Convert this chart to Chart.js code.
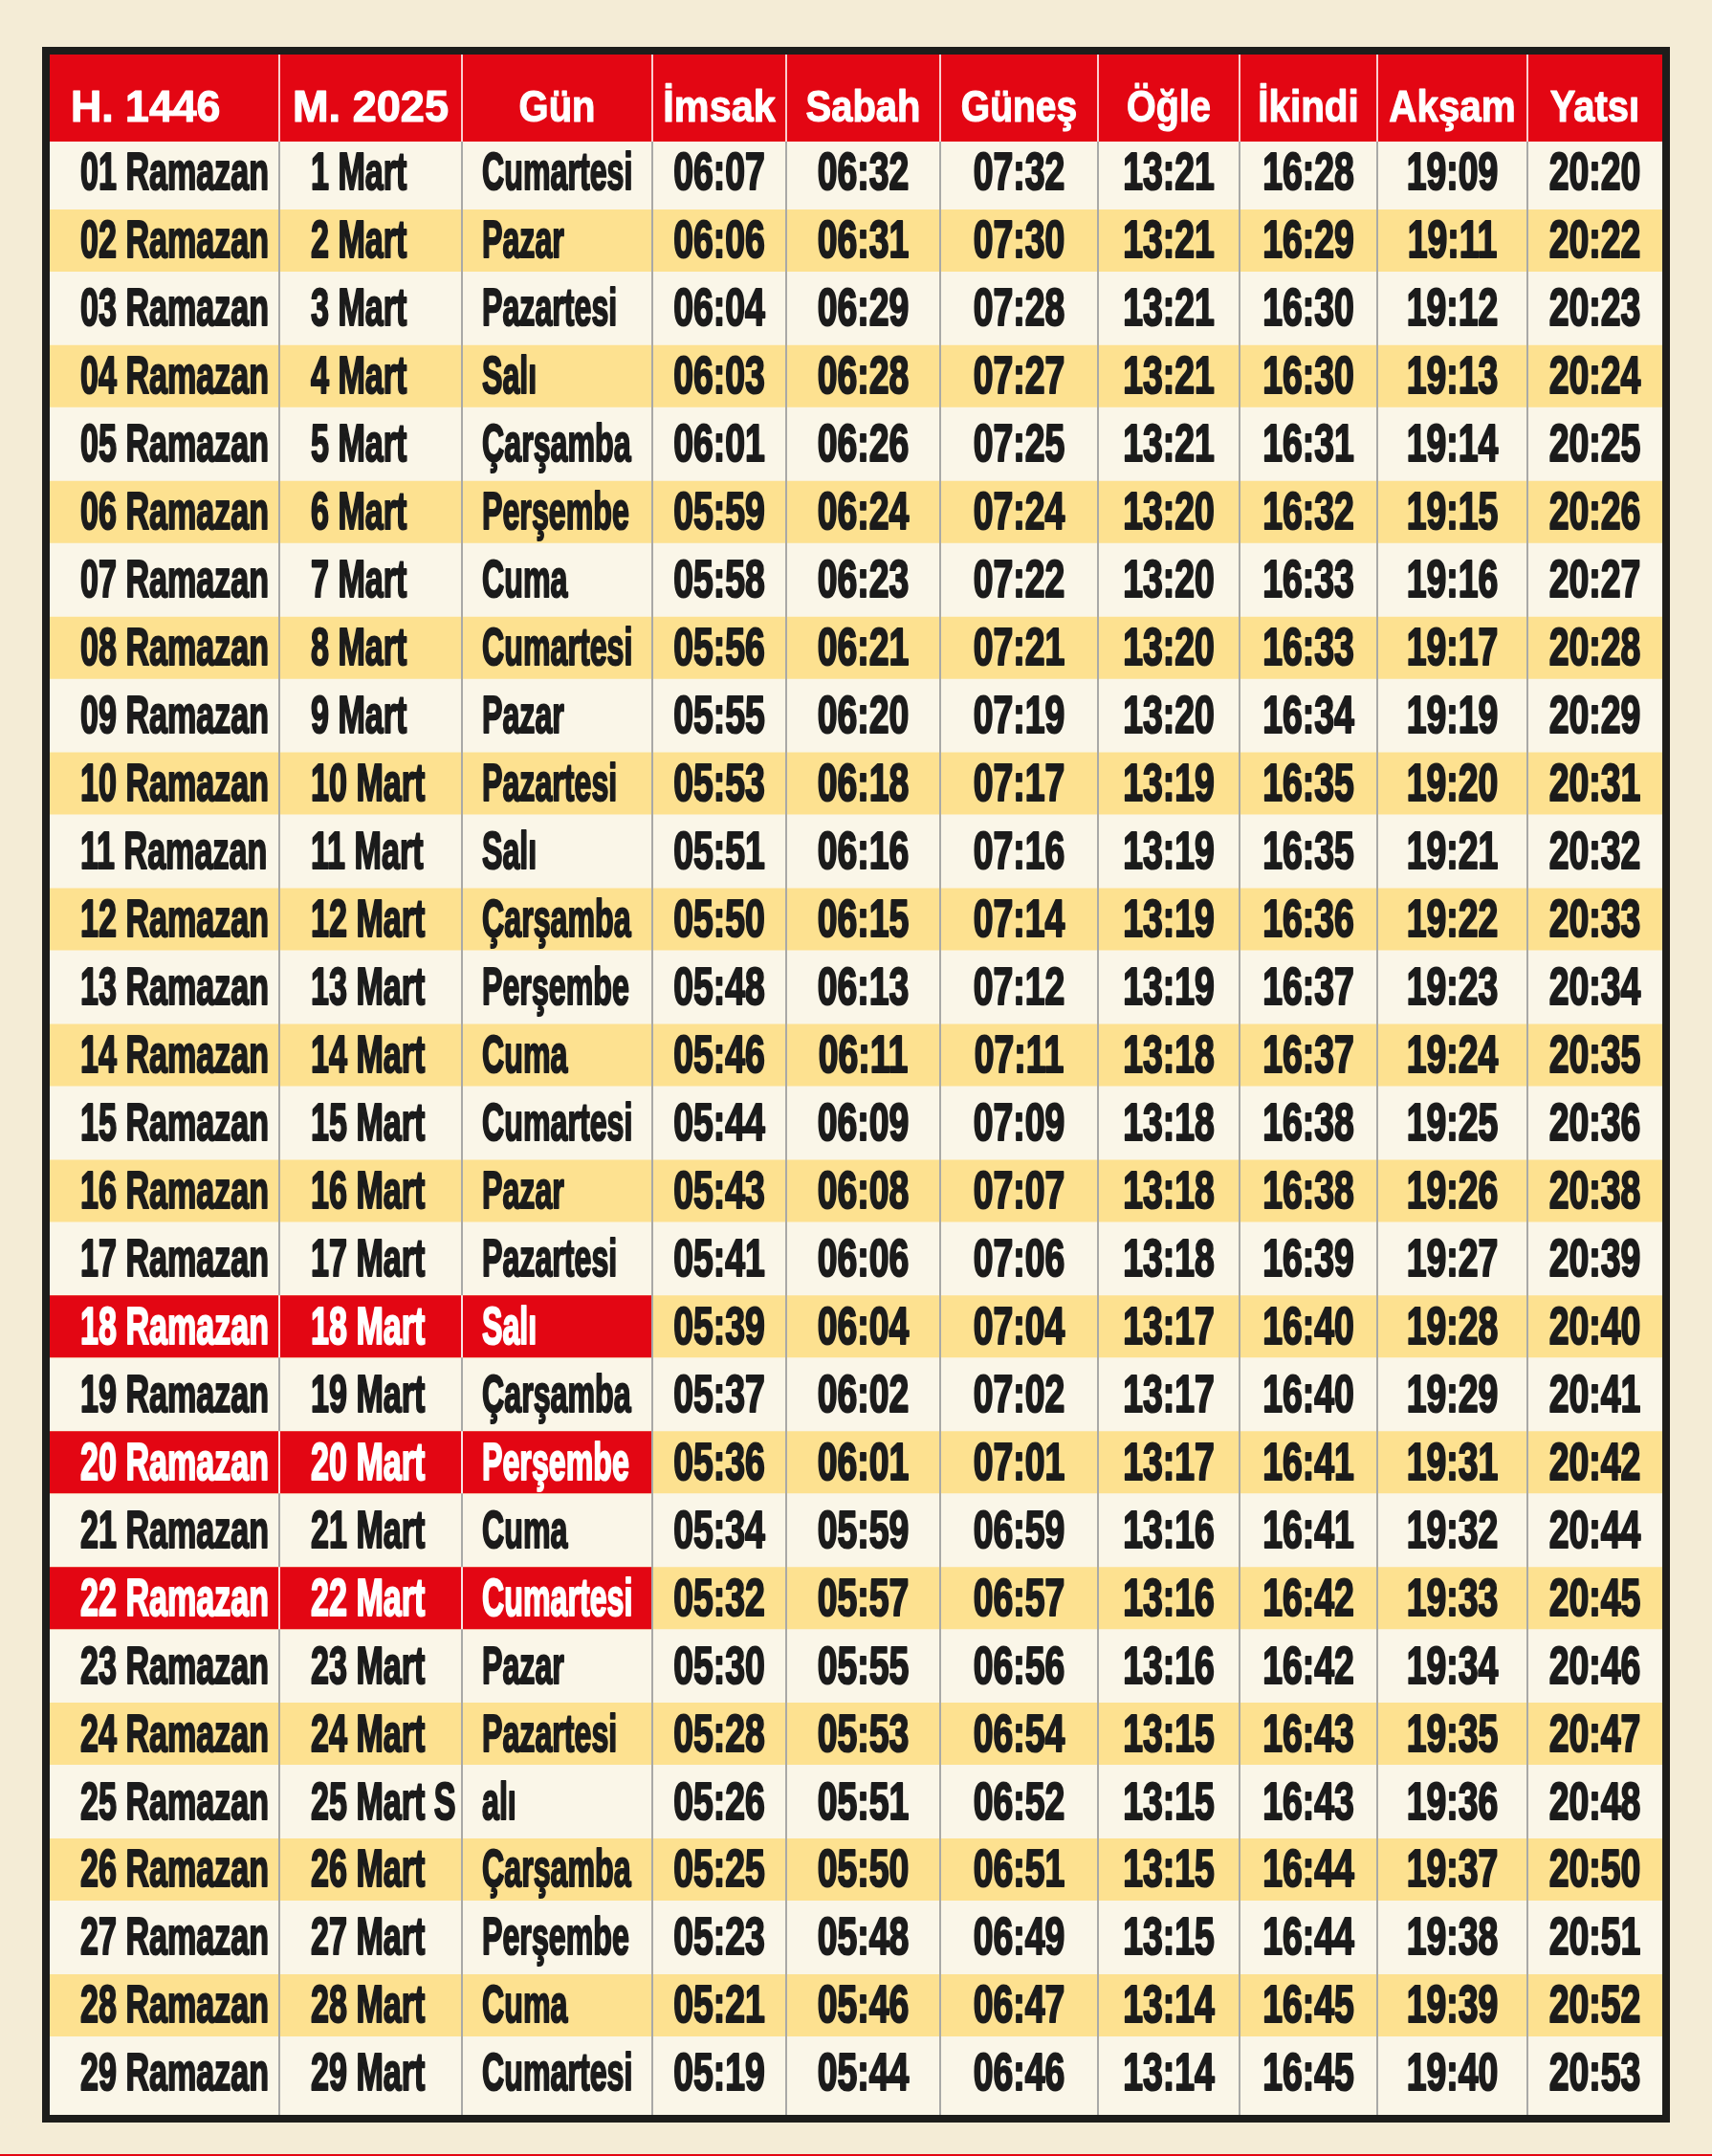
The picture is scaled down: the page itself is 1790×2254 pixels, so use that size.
<!DOCTYPE html>
<html lang="tr">
<head>
<meta charset="utf-8">
<title>Ramazan İmsakiyesi 1446 / 2025</title>
<script src="https://cdn.jsdelivr.net/npm/chart.js@4.4.1/dist/chart.umd.min.js"></script>
<style>
  html, body { margin: 0; padding: 0; background: #f4ecd6; overflow: hidden; }
  #wrap { width: 1790px; height: 2254px; }
</style>
</head>
<body>
<div id="wrap"><canvas id="imsakiye" width="1790" height="2254"></canvas></div>
<script>

  /*-------------------------------------------------------------------------------
    DATA
  -------------------------------------------------------------------------------*/

  const headers = ['H. 1446', 'M. 2025', 'Gün', 'İmsak', 'Sabah', 'Güneş', 'Öğle', 'İkindi', 'Akşam', 'Yatsı'];

  const hijri = ['01 Ramazan', '02 Ramazan', '03 Ramazan', '04 Ramazan', '05 Ramazan', '06 Ramazan',
    '07 Ramazan', '08 Ramazan', '09 Ramazan', '10 Ramazan', '11 Ramazan', '12 Ramazan', '13 Ramazan',
    '14 Ramazan', '15 Ramazan', '16 Ramazan', '17 Ramazan', '18 Ramazan', '19 Ramazan', '20 Ramazan',
    '21 Ramazan', '22 Ramazan', '23 Ramazan', '24 Ramazan', '25 Ramazan', '26 Ramazan', '27 Ramazan',
    '28 Ramazan', '29 Ramazan'];

  const miladi = ['1 Mart', '2 Mart', '3 Mart', '4 Mart', '5 Mart', '6 Mart', '7 Mart', '8 Mart',
    '9 Mart', '10 Mart', '11 Mart', '12 Mart', '13 Mart', '14 Mart', '15 Mart', '16 Mart', '17 Mart',
    '18 Mart', '19 Mart', '20 Mart', '21 Mart', '22 Mart', '23 Mart', '24 Mart', '25 Mart S', '26 Mart',
    '27 Mart', '28 Mart', '29 Mart'];

  const gun = ['Cumartesi', 'Pazar', 'Pazartesi', 'Salı', 'Çarşamba', 'Perşembe', 'Cuma',
    'Cumartesi', 'Pazar', 'Pazartesi', 'Salı', 'Çarşamba', 'Perşembe', 'Cuma',
    'Cumartesi', 'Pazar', 'Pazartesi', 'Salı', 'Çarşamba', 'Perşembe', 'Cuma',
    'Cumartesi', 'Pazar', 'Pazartesi', 'alı', 'Çarşamba', 'Perşembe', 'Cuma', 'Cumartesi'];

  const imsak = ['06:07', '06:06', '06:04', '06:03', '06:01', '05:59', '05:58', '05:56', '05:55', '05:53',
    '05:51', '05:50', '05:48', '05:46', '05:44', '05:43', '05:41', '05:39', '05:37', '05:36',
    '05:34', '05:32', '05:30', '05:28', '05:26', '05:25', '05:23', '05:21', '05:19'];

  const sabah = ['06:32', '06:31', '06:29', '06:28', '06:26', '06:24', '06:23', '06:21', '06:20', '06:18',
    '06:16', '06:15', '06:13', '06:11', '06:09', '06:08', '06:06', '06:04', '06:02', '06:01',
    '05:59', '05:57', '05:55', '05:53', '05:51', '05:50', '05:48', '05:46', '05:44'];

  const gunes = ['07:32', '07:30', '07:28', '07:27', '07:25', '07:24', '07:22', '07:21', '07:19', '07:17',
    '07:16', '07:14', '07:12', '07:11', '07:09', '07:07', '07:06', '07:04', '07:02', '07:01',
    '06:59', '06:57', '06:56', '06:54', '06:52', '06:51', '06:49', '06:47', '06:46'];

  const ogle = ['13:21', '13:21', '13:21', '13:21', '13:21', '13:20', '13:20', '13:20', '13:20', '13:19',
    '13:19', '13:19', '13:19', '13:18', '13:18', '13:18', '13:18', '13:17', '13:17', '13:17',
    '13:16', '13:16', '13:16', '13:15', '13:15', '13:15', '13:15', '13:14', '13:14'];

  const ikindi = ['16:28', '16:29', '16:30', '16:30', '16:31', '16:32', '16:33', '16:33', '16:34', '16:35',
    '16:35', '16:36', '16:37', '16:37', '16:38', '16:38', '16:39', '16:40', '16:40', '16:41',
    '16:41', '16:42', '16:42', '16:43', '16:43', '16:44', '16:44', '16:45', '16:45'];

  const aksam = ['19:09', '19:11', '19:12', '19:13', '19:14', '19:15', '19:16', '19:17', '19:19', '19:20',
    '19:21', '19:22', '19:23', '19:24', '19:25', '19:26', '19:27', '19:28', '19:29', '19:31',
    '19:32', '19:33', '19:34', '19:35', '19:36', '19:37', '19:38', '19:39', '19:40'];

  const yatsi = ['20:20', '20:22', '20:23', '20:24', '20:25', '20:26', '20:27', '20:28', '20:29', '20:31',
    '20:32', '20:33', '20:34', '20:35', '20:36', '20:38', '20:39', '20:40', '20:41', '20:42',
    '20:44', '20:45', '20:46', '20:47', '20:48', '20:50', '20:51', '20:52', '20:53'];

  // days printed on red
  const highlighted = [18, 20, 22];


  /*-------------------------------------------------------------------------------
    LAYOUT / STYLE
  -------------------------------------------------------------------------------*/

  const columns = [hijri, miladi, gun, imsak, sabah, gunes, ogle, ikindi, aksam, yatsi];

  // column edges in table units (x scale)
  const colEdges = [0, 240, 431, 630, 770, 931, 1096, 1244, 1388, 1545, 1686];
  // y scale: row n sits between n-1 and n, header above 0
  const yMin = -1.24, yMax = 29.115, headerBottom = 0.042;
  const headerMid = (yMin + headerBottom) / 2;
  const bandShare = 0.916;   // height of a coloured band inside its row

  const RED = '#e30613';
  const YELLOW = '#fde190';
  const LIGHT = '#faf6e8';
  const PAPER = '#f4ecd6';
  const FRAME = '#1d1d1b';
  const INK = '#1b1b1b';

  const headFont = 'bold 47px "Liberation Sans", Arial, sans-serif';
  const bodyFont = 'bold 55px "Liberation Sans", Arial, sans-serif';
  const headAlign = ['left', 'center', 'center', 'center', 'center', 'center', 'center', 'center', 'center', 'center'];
  const headScale = [0.95, 0.96, 0.85, 0.88, 0.85, 0.83, 0.84, 0.86, 0.86, 0.85];
  const bodyAlign = ['left', 'left', 'left', 'center', 'center', 'center', 'center', 'center', 'center', 'center'];
  const bodyScale = [0.62, 0.62, 0.585, 0.68, 0.68, 0.68, 0.68, 0.68, 0.68, 0.68];
  const headPad = 22;
  const bodyPad = [32, 33, 21];


  /*-------------------------------------------------------------------------------
    DATASETS (cells)
  -------------------------------------------------------------------------------*/

  const rowCentre = n => n - 0.5;
  const fullRow = [colEdges[0], colEdges[colEdges.length - 1]];

  const headerCells = headers.map((h, c) => ({ y: headerMid, x: [colEdges[c], colEdges[c + 1]] }));

  const redCells = [];
  highlighted.forEach(n => {
    for (let c = 0; c < 3; c++) {
      redCells.push({ y: rowCentre(n), x: [colEdges[c], colEdges[c + 1]] });
    }
  });

  const yellowRows = hijri.map((_, i) => i + 1).filter(n => n % 2 === 0)
    .map(n => ({ y: rowCentre(n), x: fullRow }));

  const lightRows = hijri.map((_, i) => i + 1).filter(n => n % 2 === 1)
    .map(n => ({ y: rowCentre(n), x: fullRow }));


  /*-------------------------------------------------------------------------------
    Plugin: paper, frame, rules and cell texts
  -------------------------------------------------------------------------------*/

  function drawText(ctx, str, x, y, align, sx, weight) {
    ctx.save();
    ctx.translate(x, y);
    ctx.scale(sx, 1);
    ctx.textAlign = align;
    ctx.lineWidth = weight;
    ctx.lineJoin = 'round';
    ctx.strokeStyle = ctx.fillStyle;
    ctx.strokeText(str, 0, 0);
    ctx.fillText(str, 0, 0);
    ctx.restore();
  }

  const tablePlugin = {
    id: 'tablo',
    beforeDraw(chart) {
      const { ctx, chartArea: a } = chart;
      ctx.save();
      ctx.fillStyle = PAPER;
      ctx.fillRect(0, 0, chart.width, chart.height);
      ctx.fillStyle = FRAME;
      ctx.fillRect(a.left - 8, a.top - 8, a.width + 16, a.height + 16);
      ctx.fillStyle = LIGHT;
      ctx.fillRect(a.left, a.top, a.width, a.height);
      ctx.fillStyle = RED;
      ctx.fillRect(0, chart.height - 2, chart.width, 2);
      ctx.restore();
    },
    afterDatasetsDraw(chart) {
      const { ctx, chartArea: a } = chart;
      const xs = chart.scales.x, ys = chart.scales.y;
      const hb = ys.getPixelForValue(headerBottom);
      ctx.save();

      // column rules
      ctx.lineWidth = 2;
      for (let c = 1; c < colEdges.length - 1; c++) {
        const x = Math.round(xs.getPixelForValue(colEdges[c]));
        ctx.strokeStyle = 'rgba(255,255,255,0.8)';
        ctx.beginPath(); ctx.moveTo(x, a.top); ctx.lineTo(x, hb); ctx.stroke();
        ctx.strokeStyle = '#a9a9a7';
        ctx.beginPath(); ctx.moveTo(x, hb); ctx.lineTo(x, a.bottom); ctx.stroke();
        if (c < 3) {
          ctx.strokeStyle = 'rgba(255,235,235,0.9)';
          highlighted.forEach(n => {
            const y0 = ys.getPixelForValue(rowCentre(n) - bandShare / 2);
            const y1 = ys.getPixelForValue(rowCentre(n) + bandShare / 2);
            ctx.beginPath(); ctx.moveTo(x, y0); ctx.lineTo(x, y1); ctx.stroke();
          });
        }
      }

      // header texts
      ctx.font = headFont;
      ctx.fillStyle = '#ffffff';
      ctx.textBaseline = 'alphabetic';
      const hy = ys.getPixelForValue(headerMid) + 24.5;
      headers.forEach((h, c) => {
        const l = xs.getPixelForValue(colEdges[c]);
        const r = xs.getPixelForValue(colEdges[c + 1]);
        const x = headAlign[c] === 'left' ? l + headPad : (l + r) / 2;
        drawText(ctx, h, x, hy, headAlign[c], headScale[c], 1.2);
      });

      // body texts
      ctx.font = bodyFont;
      hijri.forEach((_, i) => {
        const n = i + 1;
        const y = ys.getPixelForValue(rowCentre(n)) + 18;
        columns.forEach((col, c) => {
          const l = xs.getPixelForValue(colEdges[c]);
          const r = xs.getPixelForValue(colEdges[c + 1]);
          const onRed = c < 3 && highlighted.includes(n);
          ctx.fillStyle = onRed ? '#ffffff' : INK;
          const x = bodyAlign[c] === 'left' ? l + bodyPad[c] : (l + r) / 2;
          drawText(ctx, col[i], x, y, bodyAlign[c], bodyScale[c], 2.2);
        });
      });
      ctx.restore();
    }
  };


  /*-------------------------------------------------------------------------------
    Chart
  -------------------------------------------------------------------------------*/

  function drawTable() {
    const ctx = document.getElementById('imsakiye').getContext('2d');
    new Chart(ctx, {
      type: 'bar',
      data: {
        datasets: [{
          label: 'başlık',
          data: headerCells,
          backgroundColor: RED,
          barPercentage: (headerBottom - yMin)
        }, {
          label: 'vurgulu',
          data: redCells,
          backgroundColor: RED,
          barPercentage: bandShare
        }, {
          label: 'sarı satır',
          data: yellowRows,
          backgroundColor: YELLOW,
          barPercentage: bandShare
        }, {
          label: 'açık satır',
          data: lightRows,
          backgroundColor: LIGHT,
          barPercentage: 1
        }]
      },
      options: {
        indexAxis: 'y',
        responsive: false,
        animation: false,
        events: [],
        layout: { padding: { left: 52, right: 52, top: 57, bottom: 43 } },
        datasets: { bar: { grouped: false, categoryPercentage: 1, borderWidth: 0 } },
        plugins: { legend: { display: false }, tooltip: { enabled: false } },
        scales: {
          x: { type: 'linear', offset: false, min: colEdges[0], max: colEdges[colEdges.length - 1], display: false },
          y: { type: 'linear', offset: false, reverse: true, min: yMin, max: yMax, display: false, ticks: { stepSize: 5 } }
        }
      },
      plugins: [tablePlugin]
    });
  }
  drawTable();

</script>
</body>
</html>
